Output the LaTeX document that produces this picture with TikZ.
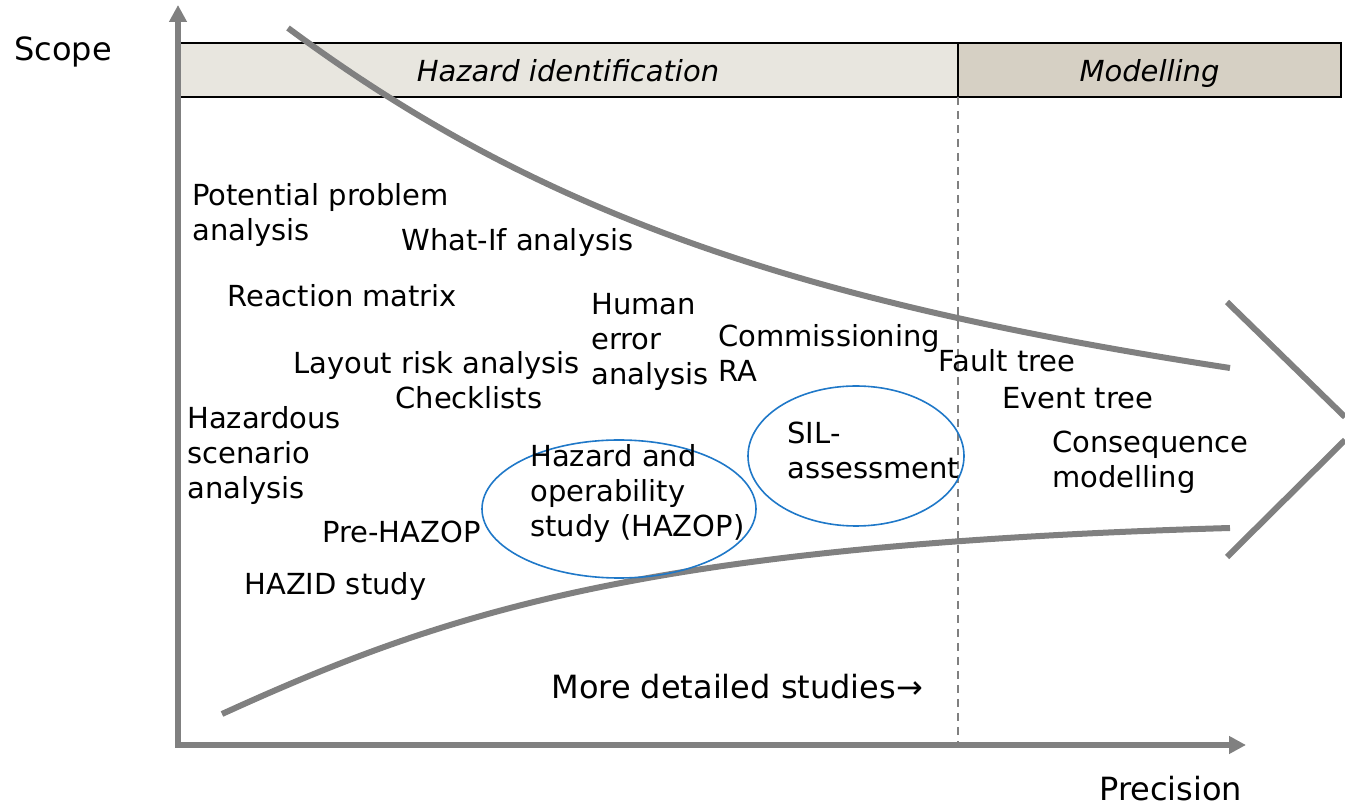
\documentclass[tikz,border=0pt]{standalone}
\usepackage{fontspec}
\setmainfont{DejaVu Sans}
\usetikzlibrary{arrows.meta}

\definecolor{axisgray}{HTML}{808080}
\definecolor{hazfill}{HTML}{E8E6DF}
\definecolor{modfill}{HTML}{D6D0C4}
\definecolor{ringblue}{HTML}{1F78C8}

\begin{document}
\begin{tikzpicture}[x=0.5pt, y=-0.5pt,
    lbl/.style={inner sep=0pt, anchor=west, align=left, font=\fontsize{14.5}{17.5}\selectfont},
    axislbl/.style={lbl, font=\fontsize{16}{19}\selectfont},
    barbox/.style={draw=black, line width=1pt, minimum height=27pt, inner sep=0pt, outer sep=0pt,
        text height=12.5pt, text depth=0.5pt, font=\fontsize{14.5}{17.5}\selectfont\itshape},
    thick gray/.style={draw=axisgray, line width=3pt},
    ring/.style={draw=ringblue, line width=0.8pt}]
    \useasboundingbox (0,0) rectangle (1345,806);

    % phase bar along the top
    \node[barbox, fill=hazfill, minimum width=390pt, anchor=west] (hazbar) at (178,70) {Hazard identification};
    \node[barbox, fill=modfill, minimum width=191.5pt, anchor=west] (modbar) at (hazbar.east) {Modelling};
    \coordinate (dashend) at (958,745);
    \draw[axisgray, line width=1pt, dash pattern=on 4pt off 3pt] (hazbar.south east) -- (dashend);

    % axes
    \coordinate (origin) at (178,745);
    \coordinate (ytop) at (178,5);
    \coordinate (xend) at (1246,745);
    \draw[thick gray, -{Triangle[length=8.5pt, width=8.5pt]}] (origin) -- (ytop);
    \draw[thick gray, -{Triangle[length=8.5pt, width=8.5pt]}] ([xshift=-1.5pt]origin) -- (xend);

    % funnel curves and chevron
    \draw[thick gray] (288,28) .. controls (540,215) and (800,302) .. (1230,368);
    \draw[thick gray] (222,714) .. controls (450,610) and (650,545) .. (1230,528);
    \draw[thick gray] (1227,302) -- (1345,417);
    \draw[thick gray] (1227,557) -- (1345,440);

    % circled methods
    \draw[ring] (619,509) ellipse [x radius=137, y radius=69];
    \draw[ring] (856,456) ellipse [x radius=108, y radius=70];

    % axis labels
    \node[axislbl] (scope) at (14,52) {Scope};
    \node[axislbl] (precision) at (1099,789) {Precision};
    \node[axislbl] (detail) at (551,687) {More detailed studies→};

    % methods
    \node[lbl] (ppa) at (192,215) {Potential problem\\analysis};
    \node[lbl] (whatif) at (401,243) {What-If analysis};
    \node[lbl] (reaction) at (227,296) {Reaction matrix};
    \node[lbl] (human) at (591,342) {Human\\error\\analysis};
    \node[lbl] (commis) at (718,353) {Commissioning\\RA};
    \node[lbl] (layout) at (293,366) {Layout risk analysis};
    \node[lbl] (check) at (395,398) {Checklists};
    \node[lbl] (fault) at (938,361) {Fault tree};
    \node[lbl] (event) at (1002,398) {Event tree};
    \node[lbl] (conseq) at (1052,462) {Consequence\\modelling};
    \node[lbl] (hsa) at (187,456) {Hazardous\\scenario\\analysis};
    \node[lbl] (hazop) at (530,494) {Hazard and\\operability\\study (HAZOP)};
    \node[lbl] (sil) at (787,450) {SIL-\\assessment};
    \node[lbl] (prehazop) at (322,532) {Pre-HAZOP};
    \node[lbl] (hazid) at (244,587) {HAZID study};

\end{tikzpicture}
\end{document}
